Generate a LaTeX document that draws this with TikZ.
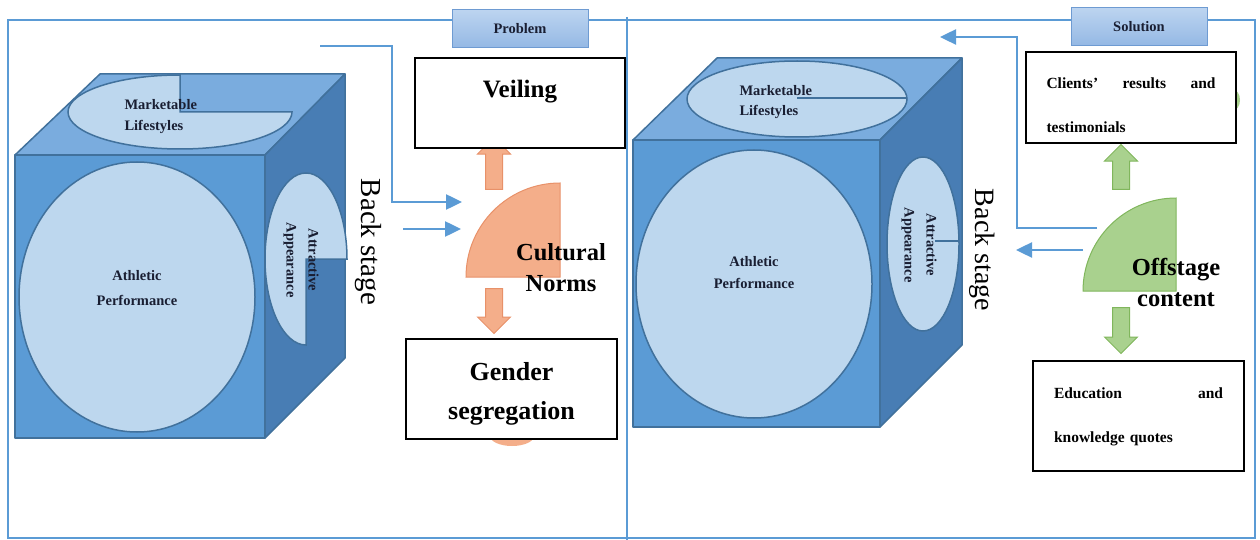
\documentclass[tikz,border=0pt]{standalone}
\usepackage{fontspec}
\setmainfont{Liberation Serif}
\usetikzlibrary{arrows.meta,shapes.arrows}
\definecolor{lineblue}{RGB}{91,155,213}
\definecolor{frontblue}{RGB}{91,155,213}
\definecolor{topblue}{RGB}{122,172,222}
\definecolor{sideblue}{RGB}{72,125,180}
\definecolor{edgeblue}{RGB}{65,113,156}
\definecolor{paleblue}{RGB}{189,215,238}
\definecolor{navy}{RGB}{25,30,50}
\definecolor{tabtop}{RGB}{188,212,240}
\definecolor{tabbot}{RGB}{148,184,228}
\definecolor{tabedge}{RGB}{110,155,210}
\definecolor{peach}{RGB}{244,174,138}
\definecolor{peachedge}{RGB}{232,145,105}
\definecolor{leaf}{RGB}{169,209,142}
\definecolor{leafedge}{RGB}{128,182,92}

\begin{document}
\begin{tikzpicture}[x=1pt,y=-1pt,
  panel/.style={draw=lineblue,line width=2.5pt},
  flow/.style={draw=lineblue,line width=2.5pt,-{Triangle[length=16pt,width=15pt]}},
  tab/.style={draw=tabedge,line width=1pt,top color=tabtop,bottom color=tabbot,minimum width=136pt,minimum height=38pt,text=navy,font=\bfseries\fontsize{14.5}{17}\selectfont},
  face/.style={draw=edgeblue,line width=1.5pt,line join=round},
  spot/.style={fill=paleblue,draw=edgeblue,line width=1.5pt},
  cubetxt/.style={text=navy,align=center,font=\bfseries\fontsize{14.5}{#1}\selectfont},
  backtxt/.style={rotate=-90,font=\fontsize{#1}{34}\selectfont},
  txtbox/.style={draw=black,line width=1.5pt,fill=white},
  bigtxt/.style={align=center,font=\bfseries\fontsize{#1}{40}\selectfont},
  quartertxt/.style={align=center,font=\bfseries\fontsize{24.5}{31}\selectfont},
  smalltxt/.style={align=left,text width=169pt,font=\bfseries\fontsize{15.5}{44}\selectfont},
  bigarrow/.style={single arrow,single arrow head extend=8pt,inner xsep=0pt,inner ysep=8pt,text height=0pt,text depth=0pt,anchor=tail,rotate=#1}]
\useasboundingbox (0,0) rectangle (1260,540);

\draw[panel] (452,20) -- (8,20) -- (8,538) -- (1255,538) -- (1255,20) -- (1207,20);
\draw[panel] (588,20) -- (1071,20);
\draw[panel] (627,17) -- (627,540);
\node (prob) at (520,29) [tab] {Problem};
\node (sol) at (1139,27) [tab] {Solution};

\filldraw[face,fill=frontblue] (15,155) rectangle (265,438);
\filldraw[face,fill=topblue] (15,155) -- (100,74) -- (345,74) -- (265,155) -- cycle;
\filldraw[face,fill=sideblue] (265,155) -- (345,74) -- (345,358) -- (265,438) -- cycle;
\filldraw[spot] (180,112) -- +(0:112 and 37) arc[start angle=0,end angle=270,x radius=112,y radius=37] -- cycle;
\filldraw[spot] (137,297) ellipse[x radius=118,y radius=135];
\filldraw[spot] (306,259) -- +(90:41 and 86) arc[start angle=90,end angle=360,x radius=41,y radius=86] -- cycle;
\node (lmarket) at (121,117) [cubetxt=21,align=left,anchor=west] {Marketable\\Lifestyles};
\node (lathletic) at (137,288) [cubetxt=25] {Athletic\\Performance};
\node (lattract) at (301,260) [cubetxt=22,rotate=-90] {Attractive\\Appearance};
\node (lback) at (368,242) [backtxt=29] {Back stage};

\filldraw[face,fill=frontblue] (633,140) rectangle (880,427);
\filldraw[face,fill=topblue] (633,140) -- (717,58) -- (962,58) -- (880,140) -- cycle;
\filldraw[face,fill=sideblue] (880,140) -- (962,58) -- (962,345) -- (880,427) -- cycle;
\filldraw[spot] (797,99) ellipse[x radius=110,y radius=38];
\draw[face] (797,98) -- (907,98);
\filldraw[spot] (754,284) ellipse[x radius=118,y radius=134];
\filldraw[spot] (923,244) ellipse[x radius=36,y radius=87];
\draw[face] (935,241) -- (959,241);
\node (rmarket) at (736,102) [cubetxt=20,align=left,anchor=west] {Marketable\\Lifestyles};
\node (rathletic) at (754,273) [cubetxt=22] {Athletic\\Performance};
\node (rattract) at (919,245) [cubetxt=22,rotate=-90] {Attractive\\Appearance};
\node (rback) at (982,250) [backtxt=28] {Back stage};

\coordinate (lfrom) at (320,46);
\coordinate (lbend) at (392,202);
\coordinate (lto) at (462,202);
\coordinate (lfrom2) at (403,229);
\coordinate (lto2) at (461,229);
\draw[flow] (lfrom) -| (lbend) -- (lto);
\draw[flow] (lfrom2) -- (lto2);

\coordinate (cult) at (560,277);
\filldraw[fill=peach,draw=peachedge,line width=1pt] (cult) -- +(180:94) arc[start angle=180,end angle=270,radius=94] -- cycle;
\node (cultup) at (494,190) [bigarrow=90,minimum height=52pt,fill=peach,draw=peachedge,line width=1pt] {};
\node (cultdown) at (494,288) [bigarrow=-90,minimum height=45pt,fill=peach,draw=peachedge,line width=1pt] {};
\node (cultural) at (561,268) [quartertxt] {Cultural\\Norms};
\fill[peach] (512,436) ellipse[x radius=22,y radius=10];

\node (veil) at (520,103) [txtbox,minimum width=210pt,minimum height=90pt] {};
\node (veiltxt) at ([yshift=11pt]veil.center) [bigtxt=25] {Veiling};
\node (gender) at (511.5,389) [txtbox,minimum width=211pt,minimum height=100pt] {};
\node (gendertxt) at ([yshift=-5pt]gender.center) [bigtxt=26] {Gender\\[-1pt]segregation};

\coordinate (rfrom) at (1097,228);
\coordinate (rbend) at (1017,37);
\coordinate (rto) at (940,37);
\coordinate (rfrom2) at (1083,250);
\coordinate (rto2) at (1016,250);
\draw[flow] (rfrom) -| (rbend) -- (rto);
\draw[flow] (rfrom2) -- (rto2);

\coordinate (off) at (1176,291);
\filldraw[fill=leaf,draw=leafedge,line width=1pt] (off) -- +(180:93) arc[start angle=180,end angle=270,radius=93] -- cycle;
\node (offup) at (1121,190) [bigarrow=90,minimum height=45pt,fill=leaf,draw=leafedge,line width=1pt] {};
\node (offdown) at (1121,307) [bigarrow=-90,minimum height=46pt,fill=leaf,draw=leafedge,line width=1pt] {};
\node (offstage) at (1176,282) [quartertxt] {Offstage\\content};
\fill[leaf] (1232,100) ellipse[x radius=8,y radius=11];

\node (clients) at (1131,97.5) [txtbox,minimum width=210pt,minimum height=91pt] {};
\node (clientstxt) at ([yshift=-8pt]clients.center) [smalltxt] {\hbox to 169pt{Clients’\hfill results\hfill and}\\testimonials};
\node (edu) at (1138.5,416) [txtbox,minimum width=211pt,minimum height=110pt] {};
\node (edutxt) at ([yshift=-1pt]edu.center) [smalltxt] {\hbox to 169pt{Education\hfill and}\\knowledge quotes};
\end{tikzpicture}
\end{document}
